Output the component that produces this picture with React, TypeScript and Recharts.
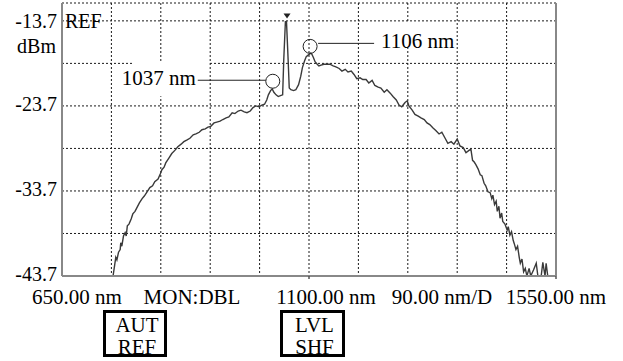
import React from 'react';
import { LineChart, Line, XAxis, YAxis, CartesianGrid, ReferenceDot, ReferenceLine } from 'recharts';

const FONT = '"Liberation Serif", Tinos, "Times New Roman", "DejaVu Serif", serif';

// spectrum trace
const wavelengthNm = [
  743, 746, 748, 750, 753, 756, 757, 759, 762, 765,
  767, 769, 772, 776, 779, 783, 787, 791, 796, 800,
  805, 810, 815, 819, 825, 829, 832, 836, 839, 845,
  850, 856, 861, 867, 872, 878, 883, 889, 894, 900,
  905, 911, 916, 921, 927, 932, 938, 943, 949, 954,
  960, 965, 971, 976, 982, 987, 993, 998, 1003, 1009,
  1014, 1019, 1023, 1026, 1030, 1033, 1036, 1040, 1044, 1048,
  1052, 1054, 1057, 1059, 1062, 1064, 1067, 1072, 1076, 1081,
  1085, 1088, 1092, 1095, 1099, 1103, 1105, 1108, 1111, 1115,
  1118, 1122, 1127, 1133, 1138, 1144, 1149, 1155, 1160, 1166,
  1171, 1177, 1182, 1187, 1193, 1198, 1204, 1209, 1215, 1220,
  1226, 1231, 1237, 1242, 1248, 1253, 1259, 1264, 1269, 1275,
  1279, 1282, 1288, 1293, 1299, 1304, 1310, 1315, 1320, 1326,
  1331, 1337, 1342, 1348, 1353, 1359, 1364, 1370, 1375, 1381,
  1386, 1392, 1395, 1398, 1401, 1404, 1408, 1412, 1415, 1419,
  1422, 1426, 1430, 1433, 1435, 1438, 1441, 1443, 1446, 1448,
  1451, 1453, 1457, 1461, 1463, 1466, 1469, 1472, 1474, 1477,
  1480, 1483, 1485, 1488, 1491, 1494, 1497, 1501, 1504, 1509,
  1514, 1517, 1523, 1526, 1530, 1532, 1535, 1548,
];

const powerDbm = [
  -43.7, -42.4, -41.5, -41.8, -40.9, -40.6, -39.8, -40.2, -39.0, -38.6,
  -39.0, -37.8, -37.6, -37.0, -36.4, -36.1, -35.6, -35.1, -34.6, -34.3,
  -33.8, -33.3, -33.1, -32.6, -32.3, -31.7, -31.2, -30.9, -30.4, -29.8,
  -29.3, -28.9, -28.5, -28.2, -27.9, -27.7, -27.5, -27.1, -27.0, -26.8,
  -26.5, -26.4, -26.2, -26.1, -25.7, -25.6, -25.5, -25.3, -25.1, -25.0,
  -24.5, -24.6, -24.3, -24.2, -24.4, -24.5, -24.3, -23.9, -23.7, -23.8,
  -23.6, -23.5, -23.0, -22.4, -21.9, -21.7, -22.1, -22.4, -22.6, -22.5,
  -22.4, -18.3, -13.8, -13.8, -18.3, -21.6, -21.8, -21.9, -21.8, -21.2,
  -20.2, -19.2, -18.4, -17.9, -17.7, -17.5, -17.6, -18.0, -18.5, -18.8,
  -19.0, -18.9, -18.8, -18.8, -18.8, -19.0, -19.1, -19.3, -19.6, -19.4,
  -19.7, -19.6, -20.0, -20.5, -20.4, -20.6, -20.6, -21.0, -20.7, -21.3,
  -21.5, -21.6, -22.1, -21.8, -22.2, -22.6, -23.0, -23.6, -23.8, -23.3,
  -23.1, -23.7, -24.2, -24.7, -24.9, -25.1, -25.3, -25.7, -25.9, -26.3,
  -26.6, -27.0, -26.8, -27.5, -28.1, -27.9, -28.2, -27.6, -28.4, -28.6,
  -29.2, -28.9, -28.8, -30.1, -30.3, -30.6, -31.1, -31.8, -31.9, -32.8,
  -33.1, -33.8, -33.9, -34.6, -34.2, -35.3, -34.9, -36.1, -35.5, -36.9,
  -36.3, -37.3, -37.6, -38.3, -37.9, -38.9, -38.5, -39.5, -39.9, -40.6,
  -40.2, -41.5, -42.2, -41.7, -43.2, -42.8, -43.7, -42.8, -43.7, -43.0,
  -42.2, -43.7, -43.7, -42.1, -43.7, -42.2, -43.7, -43.7,
];

const xDivisions = [650, 740, 830, 920, 1010, 1100, 1190, 1280, 1370, 1460, 1550];
const yDivisions = [-43.7, -38.7, -33.7, -28.7, -23.7, -18.7, -13.7];
const xTickLabels: Record<number, string> = { 650: '650.00 nm', 1100: '1100.00 nm', 1550: '1550.00 nm' };
const yTickLabels: Record<string, string> = { '-13.7': '-13.7', '-23.7': '-23.7', '-33.7': '-33.7', '-43.7': '-43.7' };

const peakMarkers = [
  { nm: 1034, dbm: -20.8, label: '1037 nm', side: 'left' },
  { nm: 1102, dbm: -16.7, label: '1106 nm', side: 'right' },
];
const spikeMarker = { nm: 1060, dbm: -13.2 };

const footerLabels = [
  { text: 'MON:DBL', x: 192 },
  { text: '90.00 nm/D', x: 442 },
];
const softKeys = [
  { lines: ['AUT', 'REF'], x: 103, w: 64 },
  { lines: ['LVL', 'SHF'], x: 280, w: 65 },
];

const data = wavelengthNm.map((nm, i) => ({ nm, dbm: powerDbm[i] }));

const xLabelShift: Record<number, number> = { 650: 15, 1100: 17, 1550: 0 };
const textStyle = { fontFamily: FONT };

const XTick = (props: any) => {
  const { x, y, payload } = props;
  const label = xTickLabels[payload.value];
  if (!label) return <g />;
  return (
    <g>
      {payload.value !== 650 && <line x1={x} y1={y} x2={x} y2={y + 3} stroke="#555" strokeWidth={1.5} />}
      <text x={x + xLabelShift[payload.value]} y={y + 28} textAnchor="middle" style={textStyle} fontSize={21} fill="#000">
        {label}
      </text>
    </g>
  );
};

const YTick = (props: any) => {
  const { x, y, payload } = props;
  const label = yTickLabels[Number(payload.value).toFixed(1)];
  if (!label) return <g />;
  const isRef = Math.abs(payload.value + 13.7) < 0.01;
  return (
    <g style={textStyle} fontSize={20} fill="#000">
      <text x={x} y={y + (isRef ? 7 : 5)} textAnchor="end" style={textStyle}>{label}</text>
      {isRef && (
        <>
          <text x={x + 8} y={y + 7} textAnchor="start" style={textStyle}>REF</text>
          <text x={x - 1} y={y + 32} textAnchor="end" style={textStyle}>dBm</text>
        </>
      )}
    </g>
  );
};

const Callout = (props: any) => {
  const { cx, cy, text, side } = props;
  if (cx == null || cy == null) return <g />;
  if (side === 'left') {
    return (
      <g>
        <rect x={cx - 139} y={cy - 20} width={75} height={35} fill="#fff" />
        <circle cx={cx} cy={cy} r={7} fill="none" stroke="#222" strokeWidth={1} />
        <line x1={cx - 75} y1={cy - 1} x2={cx - 7} y2={cy - 1} stroke="#222" strokeWidth={1} />
        <text x={cx - 77} y={cy + 4} textAnchor="end" style={textStyle} fontSize={21} fill="#000">{text}</text>
      </g>
    );
  }
  return (
    <g>
      <rect x={cx + 68} y={cy - 24} width={77} height={25} fill="#fff" />
      <circle cx={cx} cy={cy} r={7} fill="none" stroke="#222" strokeWidth={1} />
      <line x1={cx + 8} y1={cy - 3} x2={cx + 64} y2={cy - 3} stroke="#222" strokeWidth={1} />
      <text x={cx + 71} y={cy + 2} textAnchor="start" style={textStyle} fontSize={21} fill="#000">{text}</text>
    </g>
  );
};

const SpikeFlag = (props: any) => {
  const { cx, cy } = props;
  if (cx == null || cy == null) return <g />;
  return <polygon points={`${cx - 3.5},${cy - 3} ${cx + 3.5},${cy - 3} ${cx},${cy + 2}`} fill="#222" />;
};

export default function App() {
  return (
    <div style={{ position: 'relative', width: 623, height: 361, background: '#fff', fontFamily: FONT }}>
      <style>{'body{margin:0}'}</style>
      <LineChart width={623} height={361} data={data} margin={{ top: 3, right: 67, bottom: 0, left: 0 }}>
        <CartesianGrid stroke="#1a1a1a" strokeDasharray="2 2" strokeWidth={1} />
        <XAxis
          dataKey="nm"
          type="number"
          domain={[650, 1550]}
          ticks={xDivisions}
          interval={0}
          allowDataOverflow
          height={85}
          tickSize={0}
          tickMargin={0}
          tickLine={false}
          axisLine={{ stroke: '#888', strokeWidth: 2 }}
          tick={<XTick />}
        />
        <YAxis
          type="number"
          domain={[-43.7, -11.6]}
          ticks={yDivisions}
          interval={0}
          allowDataOverflow
          width={62}
          tickSize={0}
          tickMargin={5}
          tickLine={false}
          axisLine={{ stroke: '#888', strokeWidth: 2 }}
          tick={<YTick />}
        />
        <ReferenceLine x={1550} stroke="#888" strokeWidth={2} />
        <Line
          dataKey="dbm"
          type="linear"
          stroke="#3a3a3a"
          strokeWidth={1.4}
          dot={false}
          isAnimationActive={false}
        />
        {peakMarkers.map((m) => (
          <ReferenceDot
            key={m.label}
            x={m.nm}
            y={m.dbm}
            r={7}
            shape={(p: any) => <Callout {...p} text={m.label} side={m.side} />}
          />
        ))}
        <ReferenceDot x={spikeMarker.nm} y={spikeMarker.dbm} r={4} shape={(p: any) => <SpikeFlag {...p} />} />
      </LineChart>
      <svg
        width={623}
        height={361}
        style={{ position: 'absolute', left: 0, top: 0, pointerEvents: 'none' }}
      >
        {footerLabels.map((f) => (
          <text key={f.text} x={f.x} y={304} textAnchor="middle" style={textStyle} fontSize={21} fill="#000">
            {f.text}
          </text>
        ))}
        {softKeys.map((k) => (
          <g key={k.lines[0]}>
            <rect x={k.x + 1.5} y={311.5} width={k.w - 3} height={44} fill="none" stroke="#000" strokeWidth={3} />
            {k.lines.map((line, i) => (
              <text
                key={line}
                x={k.x + k.w / 2 + 2}
                y={331.5 + i * 22.5}
                textAnchor="middle"
                style={textStyle}
                fontSize={21}
                fill="#000"
              >
                {line}
              </text>
            ))}
          </g>
        ))}
      </svg>
    </div>
  );
}
